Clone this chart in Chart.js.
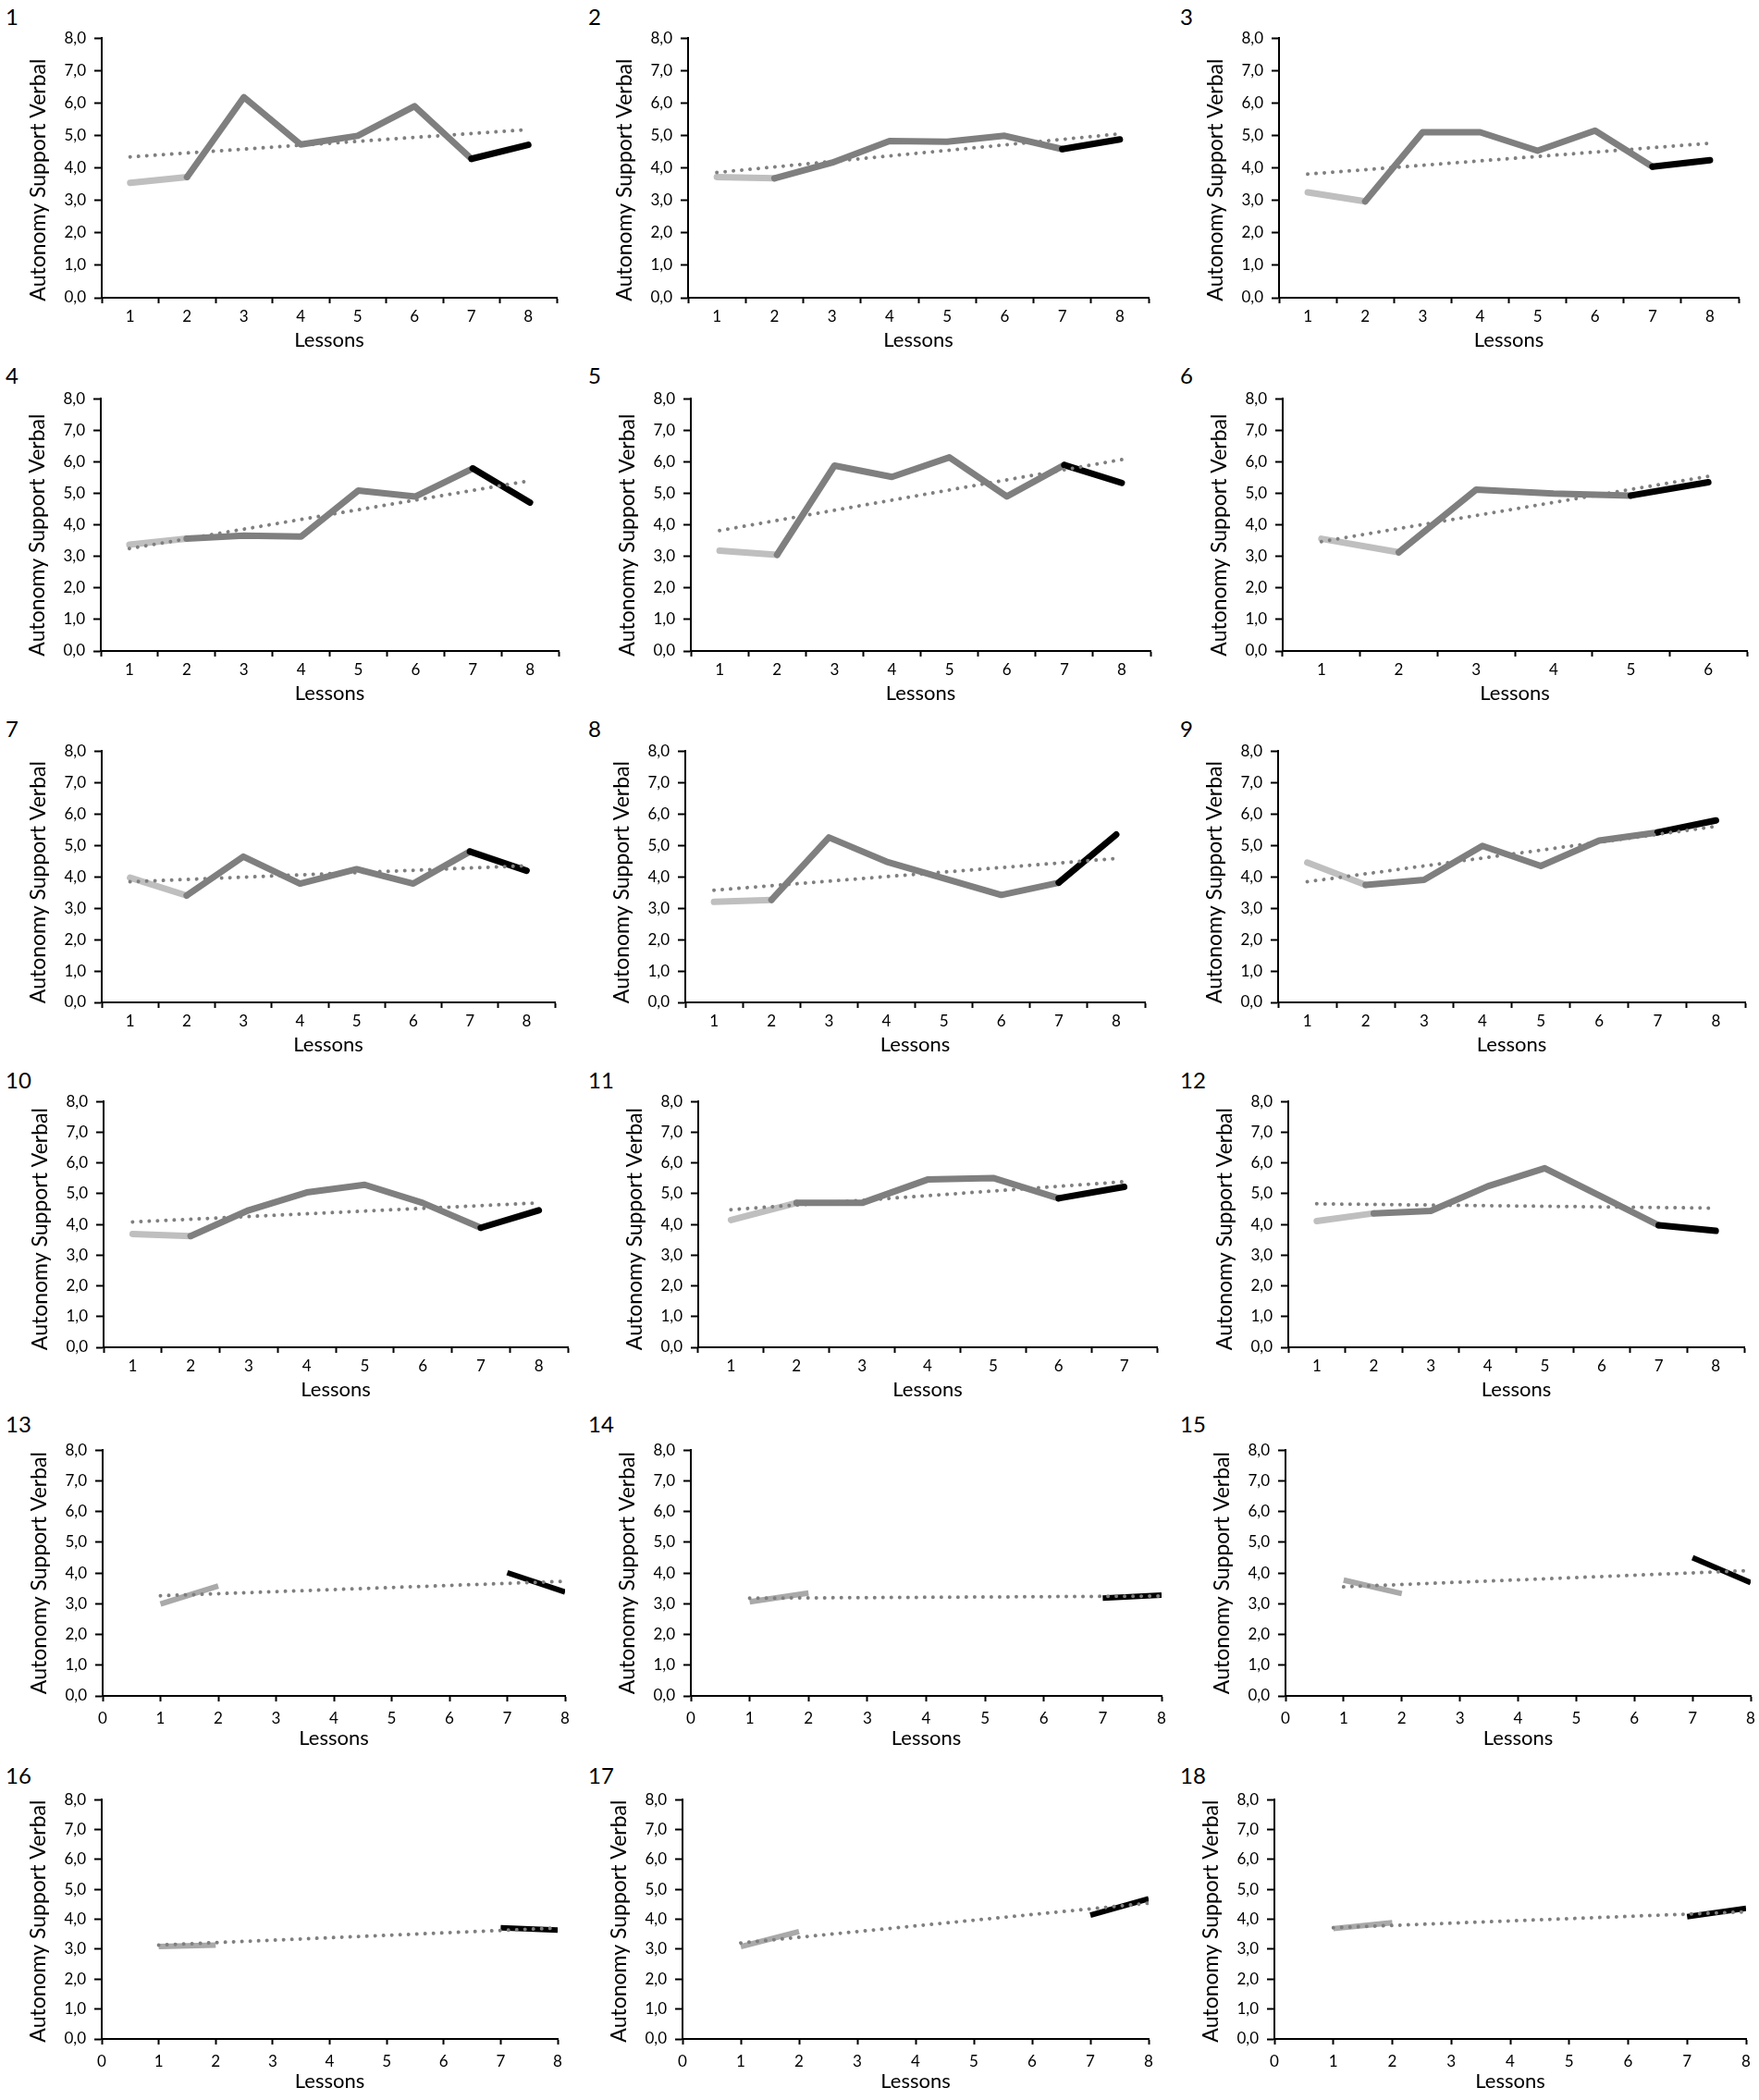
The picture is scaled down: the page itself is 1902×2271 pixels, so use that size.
<!DOCTYPE html>
<html>
<head>
<meta charset="utf-8">
<title>Autonomy Support Verbal per participant</title>
<script src="https://cdn.jsdelivr.net/npm/chart.js@4.4.1/dist/chart.umd.min.js"></script>
<style>
  body { margin: 0; background: #fff; }
  #page { position: relative; width: 1902px; height: 2271px; background: #fff; font-family: Lato, sans-serif; overflow: hidden; }
  .panel-num { position: absolute; font-size: 24px; line-height: 24px; color: #000; }
  .chart-box { position: absolute; }
</style>
</head>
<body>
<div id="page"></div>
<script>
// Tick labels
const lessons8 = ['1', '2', '3', '4', '5', '6', '7', '8'];
const lessons7 = ['1', '2', '3', '4', '5', '6', '7'];
const lessons6 = ['1', '2', '3', '4', '5', '6'];
const yTickLabels = ['0,0', '1,0', '2,0', '3,0', '4,0', '5,0', '6,0', '7,0', '8,0'];
const sparseTickLabels = ['0', '1', '2', '3', '4', '5', '6', '7', '8'];
const panelNumbers = ['1', '2', '3', '4', '5', '6', '7', '8', '9', '10', '11', '12', '13', '14', '15', '16', '17', '18'];

// Participants 1-12: every lesson observed
const p1 = [3.54, 3.72, 6.18, 4.72, 4.99, 5.90, 4.28, 4.71];
const p2 = [3.72, 3.68, 4.16, 4.83, 4.81, 4.99, 4.58, 4.88];
const p3 = [3.25, 2.97, 5.10, 5.10, 4.53, 5.15, 4.04, 4.24];
const p4 = [3.37, 3.56, 3.66, 3.63, 5.09, 4.90, 5.79, 4.71];
const p5 = [3.18, 3.05, 5.88, 5.52, 6.14, 4.90, 5.90, 5.33];
const p6 = [3.56, 3.13, 5.12, 4.99, 4.93, 5.35];
const p7 = [3.97, 3.40, 4.64, 3.78, 4.24, 3.78, 4.80, 4.19];
const p8 = [3.20, 3.26, 5.25, 4.48, 3.95, 3.42, 3.81, 5.34];
const p9 = [4.45, 3.74, 3.90, 4.98, 4.34, 5.15, 5.41, 5.79];
const p10 = [3.69, 3.62, 4.46, 5.04, 5.29, 4.70, 3.89, 4.46];
const p11 = [4.14, 4.70, 4.70, 5.46, 5.51, 4.85, 5.22];
const p12 = [4.11, 4.36, 4.44, 5.24, 5.83, 4.90, 3.97, 3.79];

// Participants 13-18: only lessons 1, 2, 7 and 8
const sparseLessons = [1, 2, 7, 8];
const p13 = [2.99, 3.58, 4.01, 3.38];
const p14 = [3.06, 3.35, 3.18, 3.28];
const p15 = [3.77, 3.33, 4.50, 3.69];
const p16 = [3.09, 3.14, 3.72, 3.64];
const p17 = [3.09, 3.59, 4.14, 4.69];
const p18 = [3.69, 3.89, 4.09, 4.37];

// Trend line (first and last lesson)
const trendStart = [4.34, 3.86, 3.81, 3.25, 3.82, 3.47, 3.84, 3.57, 3.84, 4.08, 4.48, 4.67, 3.26, 3.18, 3.55, 3.14, 3.21, 3.72];
const trendEnd = [5.18, 5.05, 4.76, 5.40, 6.07, 5.54, 4.35, 4.58, 5.60, 4.70, 5.39, 4.53, 3.73, 3.25, 4.08, 3.71, 4.54, 4.25];

const series = [p1, p2, p3, p4, p5, p6, p7, p8, p9, p10, p11, p12, p13, p14, p15, p16, p17, p18];
const lessonSets = { 8: lessons8, 7: lessons7, 6: lessons6 };

// Layout (page pixels)
const rowTop = [34, 424, 805, 1184, 1561, 1939];
const rowBottom = [322, 704, 1084, 1457, 1834, 2205];
const titleShift = [13, 11, 6, 5, 0, 2];
const numTop = [6, 394, 776, 1156, 1528, 1908];
const numLeft = [6, 636, 1276];
const axisLeft = [110, 744, 1383, 109, 747, 1387, 110, 741, 1382, 112, 755, 1393, 111, 747, 1390, 110, 738, 1378];
const axisRight = [602, 1242, 1880, 604, 1244, 1889, 600, 1238, 1887, 614, 1251, 1886, 611, 1256, 1893, 603, 1242, 1888];

const LIGHT = '#bfbfbf';
const LIGHT_SPARSE = '#a9a9a9';
const MID = '#7f7f7f';
const DARK = '#000000';
const TREND = '#7f7f7f';
const FONT = 'Lato';

const page = document.getElementById('page');

function axisTitles(shift) {
    return {
        id: 'axisTitles',
        afterDraw(chart) {
            const { ctx, chartArea: a } = chart;
            ctx.save();
            ctx.fillStyle = '#000';
            ctx.textAlign = 'center';
            ctx.textBaseline = 'middle';
            ctx.font = '23px ' + FONT;
            ctx.translate(a.left - 68, (a.top + a.bottom) / 2 + shift);
            ctx.rotate(-Math.PI / 2);
            ctx.fillText('Autonomy Support Verbal', 0, 0);
            ctx.restore();

            ctx.save();
            ctx.fillStyle = '#000';
            ctx.textAlign = 'center';
            ctx.textBaseline = 'middle';
            ctx.font = '22px ' + FONT;
            ctx.fillText('Lessons', (a.left + a.right) / 2, a.bottom + 46);
            ctx.restore();
        }
    };
}

function lineStyle(color, width, cap) {
    return {
        borderColor: color,
        borderWidth: width,
        borderCapStyle: cap,
        borderJoinStyle: 'round',
        pointRadius: 0,
        tension: 0,
        fill: false
    };
}

function makeChart(i) {
    const row = Math.floor(i / 3);
    const col = i % 3;
    const dense = i < 12;
    const vals = series[i];

    const L = axisLeft[i], R = axisRight[i], T = rowTop[row], B = rowBottom[row];
    const padL = 90, padT = 12, padR = 14, padB = 64;
    const w = R - L + padL + padR;
    const h = B - T + padT + padB;

    const num = document.createElement('div');
    num.className = 'panel-num';
    num.style.left = numLeft[col] + 'px';
    num.style.top = numTop[row] + 'px';
    num.textContent = panelNumbers[i];
    page.appendChild(num);

    const box = document.createElement('div');
    box.className = 'chart-box';
    box.style.left = (L - padL) + 'px';
    box.style.top = (T - padT) + 'px';
    box.style.width = w + 'px';
    box.style.height = h + 'px';
    const cv = document.createElement('canvas');
    cv.width = w;
    cv.height = h;
    cv.style.width = w + 'px';
    cv.style.height = h + 'px';
    box.appendChild(cv);
    page.appendChild(box);

    let datasets, xScale;
    const tickFont = { family: FONT, size: 17 };
    const axisGrid = { drawOnChartArea: false, drawTicks: true, tickLength: 6, tickWidth: 2, tickColor: '#000' };

    if (dense) {
        const last = vals.length - 1;
        datasets = [
            Object.assign({ data: vals.map((v, k) => k === 0 ? trendStart[i] : (k === last ? trendEnd[i] : null)), spanGaps: true, borderDash: [0.01, 9] }, lineStyle(TREND, 4, 'round')),
            Object.assign({ data: vals.map((v, k) => k >= last - 1 ? v : null) }, lineStyle(DARK, 7, 'round')),
            Object.assign({ data: vals.map((v, k) => (k >= 1 && k <= last - 1) ? v : null) }, lineStyle(MID, 7, 'round')),
            Object.assign({ data: vals.map((v, k) => k <= 1 ? v : null) }, lineStyle(LIGHT, 7, 'round'))
        ];
        xScale = {
            type: 'category',
            labels: lessonSets[vals.length],
            offset: true,
            grid: Object.assign({ offset: true }, axisGrid),
            border: { display: true, color: '#000', width: 2 },
            ticks: { color: '#000', font: tickFont, padding: 4, maxRotation: 0, autoSkip: false },
            afterFit: (s) => { s.height = padB; }
        };
    } else {
        const pts = sparseLessons.map((x, k) => ({ x: x, y: vals[k] }));
        datasets = [
            Object.assign({ data: [{ x: 1, y: trendStart[i] }, { x: 8, y: trendEnd[i] }], borderDash: [0.01, 9] }, lineStyle(TREND, 4, 'round')),
            Object.assign({ data: pts.slice(2) }, lineStyle(DARK, 6, 'butt')),
            Object.assign({ data: pts.slice(0, 2) }, lineStyle(LIGHT_SPARSE, 6, 'butt'))
        ];
        xScale = {
            type: 'linear',
            min: 0,
            max: 8,
            grid: axisGrid,
            border: { display: true, color: '#000', width: 2 },
            ticks: { stepSize: 1, color: '#000', font: tickFont, padding: 8, maxRotation: 0, autoSkip: false,
                     callback: (v, k) => sparseTickLabels[k] },
            afterFit: (s) => { s.height = padB; }
        };
    }

    new Chart(cv, {
        type: 'line',
        data: { datasets: datasets },
        options: {
            responsive: false,
            animation: false,
            events: [],
            layout: { padding: { top: padT, right: padR, left: 0, bottom: 0 } },
            plugins: { legend: { display: false }, tooltip: { enabled: false } },
            scales: {
                x: xScale,
                y: {
                    type: 'linear',
                    min: 0,
                    max: 8,
                    grid: { drawOnChartArea: false, drawTicks: true, tickLength: 8, tickWidth: 2, tickColor: '#000' },
                    border: { display: true, color: '#000', width: 2 },
                    ticks: { stepSize: 1, color: '#000', font: tickFont, padding: 9,
                             callback: (v, k) => yTickLabels[k] },
                    afterFit: (s) => { s.width = padL; }
                }
            }
        },
        plugins: [axisTitles(titleShift[row])]
    });
}

for (let i = 0; i < 18; i++) makeChart(i);
</script>
</body>
</html>
